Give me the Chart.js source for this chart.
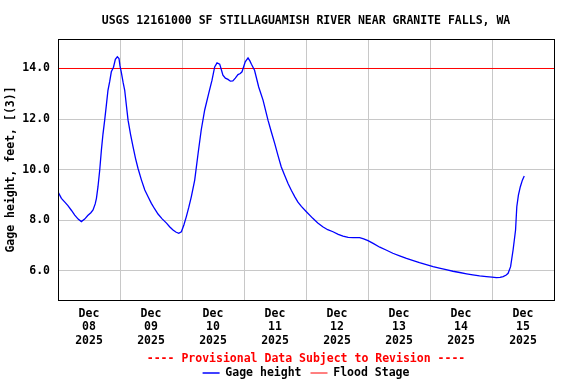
<!DOCTYPE html>
<html lang="en">
<head>
<meta charset="UTF-8">
<title>USGS 12161000</title>
<script src="https://cdn.jsdelivr.net/npm/chart.js"></script>
<style>
  body { margin: 0; background: #fff; }
</style>
</head>
<body>
<canvas id="myChart" width="576" height="384"></canvas>
<script>
// days since Dec 08 2025 00:00
const gageTime = [
  0.000, 0.055, 0.110, 0.160, 0.215, 0.270, 0.325, 0.377, 0.430, 0.480,
  0.530, 0.565, 0.600, 0.620, 0.645, 0.673, 0.700, 0.725, 0.753, 0.780,
  0.806, 0.835, 0.860, 0.895, 0.925, 0.957, 0.984, 1.000, 1.020, 1.050,
  1.076, 1.105, 1.130, 1.170, 1.210, 1.250, 1.290, 1.345, 1.400, 1.455,
  1.506, 1.560, 1.613, 1.680, 1.750, 1.800, 1.855, 1.900, 1.947, 1.990,
  2.030, 2.070, 2.110, 2.150, 2.205, 2.260, 2.310, 2.366, 2.430, 2.484,
  2.527, 2.565, 2.608, 2.635, 2.660, 2.700, 2.742, 2.780, 2.820, 2.860,
  2.903, 2.940, 2.968, 3.020, 3.065, 3.095, 3.120, 3.170, 3.237, 3.307,
  3.387, 3.440, 3.495, 3.550, 3.600, 3.655, 3.710, 3.765, 3.820, 3.870,
  3.925, 4.006, 4.110, 4.190, 4.270, 4.350, 4.435, 4.520, 4.597, 4.680,
  4.758, 4.866, 4.930, 5.000, 5.090, 5.190, 5.300, 5.400, 5.510, 5.620,
  5.730, 5.830, 5.940, 6.050, 6.150, 6.260, 6.370, 6.480, 6.590, 6.690,
  6.800, 6.910, 7.000, 7.070, 7.130, 7.180, 7.230, 7.260, 7.300, 7.340,
  7.380, 7.400, 7.426, 7.457, 7.490, 7.520
];
const gageFeet = [
  9.13, 8.87, 8.72, 8.58, 8.40, 8.21, 8.05, 7.95, 8.05, 8.19,
  8.30, 8.41, 8.65, 8.87, 9.33, 9.99, 10.78, 11.40, 11.96, 12.55,
  13.14, 13.50, 13.87, 14.05, 14.36, 14.46, 14.39, 14.10, 13.87, 13.45,
  13.14, 12.50, 11.96, 11.40, 10.91, 10.45, 10.06, 9.60, 9.20, 8.92,
  8.67, 8.45, 8.25, 8.06, 7.89, 7.75, 7.62, 7.54, 7.49, 7.55,
  7.82, 8.15, 8.52, 8.93, 9.59, 10.65, 11.57, 12.36, 13.01, 13.54,
  14.06, 14.22, 14.17, 13.95, 13.74, 13.62, 13.57, 13.50, 13.51, 13.62,
  13.76, 13.80, 13.87, 14.26, 14.42, 14.30, 14.17, 13.93, 13.27, 12.75,
  11.96, 11.50, 11.04, 10.55, 10.12, 9.78, 9.46, 9.18, 8.93, 8.72,
  8.55, 8.34, 8.08, 7.90, 7.75, 7.63, 7.55, 7.45, 7.38, 7.33,
  7.32, 7.32, 7.27, 7.20, 7.08, 6.94, 6.82, 6.70, 6.60, 6.50,
  6.41, 6.33, 6.25, 6.17, 6.11, 6.05, 5.99, 5.94, 5.89, 5.85,
  5.81, 5.78, 5.76, 5.74, 5.75, 5.78, 5.84, 5.91, 6.17, 6.83,
  7.62, 8.54, 9.00, 9.33, 9.59, 9.75
];
const floodStage = 14.0;
const dayLabels = [
  ['Dec', '08', '2025'], ['Dec', '09', '2025'], ['Dec', '10', '2025'], ['Dec', '11', '2025'],
  ['Dec', '12', '2025'], ['Dec', '13', '2025'], ['Dec', '14', '2025'], ['Dec', '15', '2025']
];
const yTicks = [6, 8, 10, 12, 14];

const FONT = { family: "'DejaVu Sans Mono', monospace", size: 11.5, weight: 'bold', lineHeight: 1.2 };
Chart.defaults.font = FONT;
Chart.defaults.color = '#000';

// black frame round the plot
const frame = {
  id: 'frame',
  afterDraw(chart) {
    const { ctx, chartArea: a } = chart;
    ctx.save();
    ctx.strokeStyle = '#000';
    ctx.lineWidth = 1;
    ctx.strokeRect(a.left + 0.5, a.top + 0.5, a.right - a.left, a.bottom - a.top);
    ctx.restore();
  }
};

const ctx = document.getElementById('myChart').getContext('2d');
new Chart(ctx, {
  type: 'line',
  data: {
    datasets: [{
      label: 'Gage height',
      data: gageTime.map((t, i) => ({ x: t, y: gageFeet[i] })),
      borderColor: '#0000ff',
      backgroundColor: '#0000ff',
      borderWidth: 1.3,
      pointRadius: 0,
      tension: 0
    }, {
      label: 'Flood Stage',
      data: [{ x: 0, y: floodStage }, { x: dayLabels.length, y: floodStage }],
      borderColor: '#ff0000',
      backgroundColor: '#ff0000',
      borderWidth: 1,
      pointRadius: 0
    }]
  },
  options: {
    responsive: false,
    animation: false,
    devicePixelRatio: 1,
    layout: { padding: { left: 0, right: 22, top: 0, bottom: -4.75 } },
    scales: {
      x: {
        type: 'linear',
        min: 0,
        max: dayLabels.length,
        afterBuildTicks: s => {
          const t = [];
          for (let v = 0; v <= dayLabels.length; v += 0.5) t.push({ value: v });
          s.ticks = t;
        },
        afterFit: s => { s.height = 46; },
        ticks: {
          autoSkip: false,
          maxRotation: 0,
          padding: 7.3,
          font: { ...FONT, lineHeight: 1.16 },
          callback: v => Number.isInteger(v) ? '' : dayLabels[Math.floor(v)]
        },
        grid: {
          drawTicks: false,
          color: c => (c.tick && Number.isInteger(c.tick.value)) ? '#c8c8c8' : 'rgba(0,0,0,0)'
        },
        border: { display: false }
      },
      y: {
        min: 4.854,
        max: 15.165,
        afterBuildTicks: s => { s.ticks = yTicks.map(v => ({ value: v })); },
        afterFit: s => { s.width = 58; },
        ticks: { padding: 8, callback: v => v.toFixed(1) },
        grid: { drawTicks: false, color: '#c8c8c8' },
        border: { display: false },
        title: {
          display: true,
          text: 'Gage height, feet, [(3)]',
          padding: { top: 4.6, bottom: 0 }
        }
      }
    },
    plugins: {
      title: {
        display: true,
        fullSize: false,
        text: 'USGS 12161000 SF STILLAGUAMISH RIVER NEAR GRANITE FALLS, WA',
        color: '#000',
        font: FONT,
        padding: { top: 14, bottom: 11.2 }
      },
      subtitle: {
        display: true,
        fullSize: false,
        position: 'bottom',
        weight: 500,
        text: '---- Provisional Data Subject to Revision ----',
        color: '#ff0000',
        font: FONT,
        padding: { top: 6.1, bottom: -7.65 }
      },
      legend: {
        display: true,
        fullSize: false,
        position: 'bottom',
        labels: {
          usePointStyle: true,
          pointStyle: 'line',
          pointStyleWidth: 17,
          padding: 9,
          color: '#000',
          font: FONT
        }
      },
      tooltip: { enabled: false }
    }
  },
  plugins: [frame]
});
</script>
</body>
</html>
